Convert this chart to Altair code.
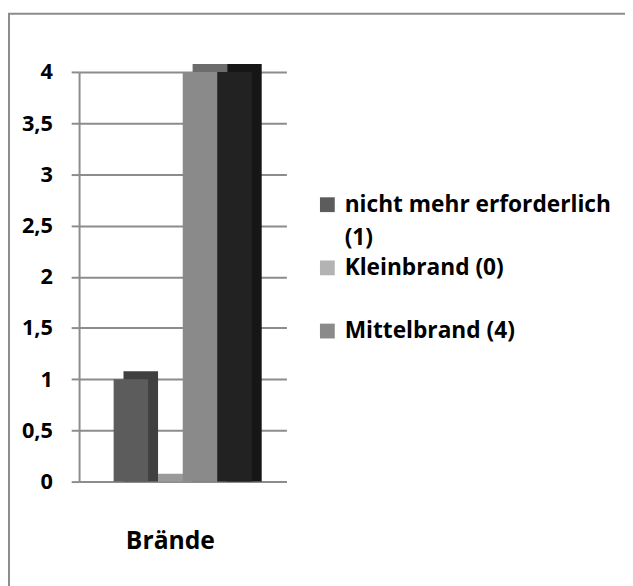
import altair as alt
import pandas as pd

# ---- data ----
categories = ["Brände"]
series = ["nicht mehr erforderlich (1)", "Kleinbrand (0)", "Mittelbrand (4)", "Serie 4"]
values = [1, 0, 4, 4]
legend_series = ["nicht mehr erforderlich (1)", "Kleinbrand (0)", "Mittelbrand (4)"]
y_ticks = [0, 0.5, 1, 1.5, 2, 2.5, 3, 3.5, 4]

colors = ["#5c5c5c", "#b3b3b3", "#8a8a8a", "#222222"]
side_colors = ["#404040", "#9a9a9a", "#6c6c6c", "#161616"]
GRAY = "#8c8c8c"
FONT = "Open Sans"

df = pd.DataFrame({
    "Kategorie": [categories[0]] * len(series),
    "Serie": series,
    "Wert": values,
})

x_enc = alt.X(
    "Serie:N", sort=series,
    scale=alt.Scale(paddingInner=0, paddingOuter=1),
    axis=alt.Axis(
        title=categories[0], labels=False, ticks=False,
        domainColor=GRAY, domainWidth=2,
        titleFont=FONT, titleFontSize=25, titleFontWeight="bold",
        titleColor="#000000", titleX=92, titleY=68,
        titleAnchor="middle", titleAlign="center", titleBaseline="alphabetic",
    ),
)
y_enc = alt.Y(
    "Wert:Q", stack=False,
    scale=alt.Scale(domain=[0, 4], nice=False),
    axis=alt.Axis(
        title=None, values=y_ticks,
        labelExpr="replace(format(datum.value, '.1~f'), '.', ',')",
        labelFont=FONT, labelFontSize=22, labelFontWeight="bold",
        labelColor="#000000", labelPadding=19, labelAlign="right",
        tickSize=8, tickColor=GRAY, tickWidth=2,
        domainColor=GRAY, domainWidth=2,
        grid=True, gridColor=GRAY, gridWidth=2,
    ),
)

frame = alt.Chart(pd.DataFrame({"f": [0]})).mark_rect(
    filled=False, stroke=GRAY, strokeWidth=2
).encode(
    x=alt.value(-71), x2=alt.value(800), y=alt.value(-59), y2=alt.value(800)
)

# depth faces (drawn behind the front faces)
depth = alt.Chart(df).mark_bar(xOffset=10, yOffset=-8).encode(
    x=x_enc, y=y_enc,
    color=alt.Color("Serie:N", sort=series,
                    scale=alt.Scale(domain=series, range=side_colors),
                    legend=None),
)

front = alt.Chart(df).mark_bar().encode(
    x=x_enc, y=y_enc,
    color=alt.Color(
        "Serie:N", sort=series,
        scale=alt.Scale(domain=series, range=colors),
        legend=alt.Legend(
            values=legend_series, title=None, orient="none",
            legendX=240, legendY=123, padding=0,
            symbolType="square", symbolSize=225, symbolStrokeWidth=0,
            symbolOpacity=1,
            labelFont=FONT, labelFontSize=23, labelFontWeight="bold",
            labelColor="#000000", labelOffset=6, labelLimit=400,
            labelExpr="datum.label == 'nicht mehr erforderlich (1)' ? ['nicht mehr erforderlich', '(1)'] : [datum.label, '']",
            rowPadding=6,
        ),
    ),
)

chart = alt.layer(frame, depth, front).resolve_scale(color="independent").properties(
    width=210, height=415,
    autosize="none",
    padding={"left": 72, "top": 61, "right": 343, "bottom": 102},
).configure(
    style={"guide-label": {"lineHeight": 34}},
    view=alt.ViewConfig(stroke="transparent"),
)

chart.save("out.html", embed_options={"renderer": "svg", "actions": False})
